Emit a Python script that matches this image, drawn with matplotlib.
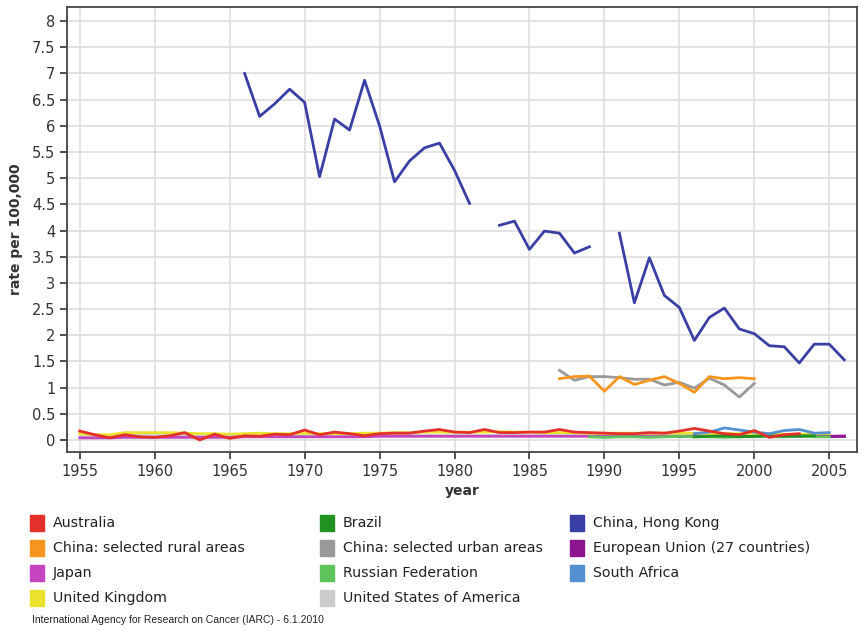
import numpy as np
import matplotlib.pyplot as plt
from matplotlib.patches import Rectangle

nan = np.nan

# China, Hong Kong (gaps 1982 and 1990)
hk_years = list(range(1966, 2007))
hk_rate = [7.0, 6.18, 6.42, 6.7, 6.45, 5.03, 6.13, 5.92, 6.87, 6.0,
           4.93, 5.33, 5.58, 5.67, 5.15, 4.52, nan, 4.1, 4.18, 3.64,
           3.99, 3.95, 3.57, 3.69, nan, 3.95, 2.62, 3.48, 2.76, 2.53,
           1.9, 2.34, 2.52, 2.12, 2.03, 1.8, 1.78, 1.47, 1.83, 1.83,
           1.53]

china_years = list(range(1987, 2001))
rural_rate = [1.17, 1.21, 1.22, 0.93, 1.21, 1.06, 1.14, 1.21, 1.08, 0.91,
              1.21, 1.17, 1.19, 1.17]
urban_rate = [1.33, 1.14, 1.21, 1.21, 1.19, 1.16, 1.16, 1.05, 1.1, 0.99,
              1.18, 1.05, 0.82, 1.08]

aus_years = list(range(1955, 2004))
aus_rate = [0.17, 0.1, 0.04, 0.1, 0.06, 0.05, 0.08, 0.14, 0.0, 0.11,
            0.03, 0.08, 0.07, 0.11, 0.1, 0.19, 0.1, 0.15, 0.12, 0.08,
            0.12, 0.13, 0.13, 0.17, 0.2, 0.15, 0.14, 0.2, 0.14, 0.14,
            0.15, 0.15, 0.2, 0.15, 0.14, 0.13, 0.12, 0.12, 0.14, 0.13,
            0.17, 0.22, 0.17, 0.12, 0.1, 0.18, 0.05, 0.1, 0.12]

brazil_years = list(range(1996, 2005))
brazil_rate = [0.06, 0.07, 0.08, 0.06, 0.07, 0.08, 0.07, 0.08, 0.08]

sa_years = list(range(1996, 2006))
sa_rate = [0.12, 0.15, 0.23, 0.19, 0.15, 0.12, 0.18, 0.2, 0.13, 0.14]

russia_years = list(range(1989, 2006))
russia_rate = [0.06, 0.05, 0.06, 0.06, 0.05, 0.06, 0.07, 0.06, 0.06, 0.05,
               0.06, 0.07, 0.06, 0.06, 0.07, 0.06, 0.06]

eu_years = list(range(1995, 2007))
eu_rate = [0.07, 0.07, 0.07, 0.07, 0.07, 0.07, 0.07, 0.07, 0.07, 0.07,
           0.07, 0.07]

japan_years = list(range(1955, 2007))
japan_rate = [0.04, 0.04, 0.04, 0.05, 0.05, 0.05, 0.05, 0.05, 0.05, 0.05,
              0.05, 0.06, 0.06, 0.06, 0.06, 0.06, 0.06, 0.06, 0.06, 0.06,
              0.07, 0.07, 0.07, 0.07, 0.07, 0.07, 0.07, 0.07, 0.07, 0.07,
              0.07, 0.07, 0.07, 0.07, 0.07, 0.07, 0.07, 0.07, 0.07, 0.07,
              0.07, 0.07, 0.07, 0.07, 0.07, 0.07, 0.07, 0.07, 0.07, 0.07,
              0.07, 0.08]

uk_years = list(range(1955, 2006))
uk_rate = [0.12, 0.1, 0.1, 0.14, 0.14, 0.14, 0.14, 0.13, 0.12, 0.12,
           0.11, 0.12, 0.13, 0.12, 0.12, 0.13, 0.12, 0.12, 0.12, 0.13,
           0.13, 0.14, 0.14, 0.15, 0.15, 0.15, 0.15, 0.15, 0.16, 0.15,
           0.15, 0.14, 0.14, 0.14, 0.13, 0.13, 0.13, 0.13, 0.13, 0.13,
           0.13, 0.13, 0.12, 0.12, 0.12, 0.12, 0.11, 0.11, 0.11, 0.11,
           0.11]

us_years = list(range(1955, 2006))
us_rate = [0.1] * 51

series = [
    ("United States of America", us_years, us_rate, "#cccccc"),
    ("United Kingdom", uk_years, uk_rate, "#ebe22e"),
    ("Japan", japan_years, japan_rate, "#c545c0"),
    ("European Union (27 countries)", eu_years, eu_rate, "#8e1590"),
    ("Russian Federation", russia_years, russia_rate, "#5cc45a"),
    ("Brazil", brazil_years, brazil_rate, "#1f9221"),
    ("South Africa", sa_years, sa_rate, "#5490cf"),
    ("Australia", aus_years, aus_rate, "#e3302a"),
    ("China: selected urban areas", china_years, urban_rate, "#999999"),
    ("China: selected rural areas", china_years, rural_rate, "#f7961f"),
    ("China, Hong Kong", hk_years, hk_rate, "#3a3fa6"),
]
colors = {name: c for name, _, _, c in series}

legend_order = ["Australia", "Brazil", "China, Hong Kong",
                "China: selected rural areas", "China: selected urban areas",
                "European Union (27 countries)",
                "Japan", "Russian Federation", "South Africa",
                "United Kingdom", "United States of America"]

fig = plt.figure(figsize=(8.61, 6.33), dpi=100)
ax = fig.add_axes([67 / 861, 1 - 452 / 633, 790 / 861, 445 / 633])

for name, yrs, vals, c in series:
    ax.plot(yrs, vals, color=c, lw=2)

ax.set_xlim(1954.15, 2006.85)
ax.set_ylim(-0.23, 8.27)
ax.set_xticks(range(1955, 2006, 5))
ax.set_yticks(np.arange(0, 8.01, 0.5))
ax.set_yticklabels([f"{v:g}" for v in np.arange(0, 8.01, 0.5)])
ax.grid(True, color="#dedede", lw=1.2)
ax.set_axisbelow(True)
for s in ax.spines.values():
    s.set_color("#444444")
    s.set_linewidth(1.3)
ax.tick_params(colors="#333333", labelsize=10.5, length=5, width=1.2)
ax.set_xlabel("year", fontsize=10, fontweight="bold", color="#333333", labelpad=4)
ax.set_ylabel("rate per 100,000", fontsize=10, fontweight="bold", color="#333333", labelpad=6)

# legend, 3 columns
col_x = [30, 320, 570]
row_y = [523, 548, 573, 598]
for i, name in enumerate(legend_order):
    r, c = divmod(i, 3)
    x = col_x[c] / 861
    y = 1 - row_y[r] / 633
    fig.patches.append(Rectangle((x, y - 8 / 633), 14 / 861, 16 / 633,
                                 transform=fig.transFigure, color=colors[name]))
    fig.text(x + 23 / 861, y, name, fontsize=10.2, color="#222222", va="center")

fig.text(32 / 861, 1 - 620 / 633, "International Agency for Research on Cancer (IARC) - 6.1.2010",
         fontsize=7.5, family="Liberation Sans", color="#222222", va="center")

fig.savefig("out.png", dpi=100)
